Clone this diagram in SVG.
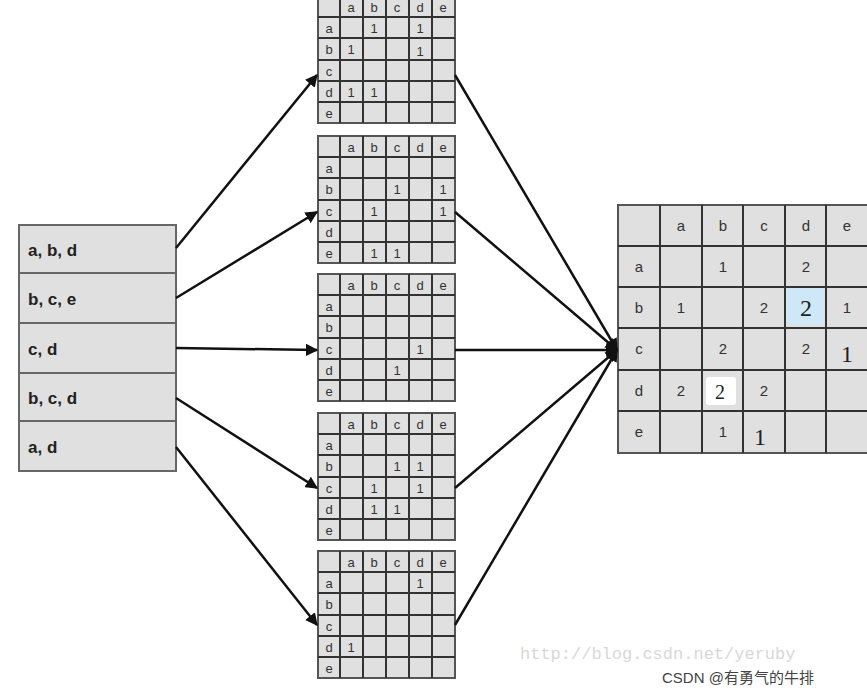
<svg xmlns="http://www.w3.org/2000/svg" width="867" height="690" viewBox="0 0 867 690">
<style>
.m{fill:#e0e0e0;stroke:#555;stroke-width:2}
.g{stroke:#333;stroke-width:2;fill:none}
.s{font-family:"Liberation Sans",Arial,sans-serif;font-size:13px;fill:#333;text-anchor:middle}
.b{font-family:"Liberation Sans",Arial,sans-serif;font-size:15px;fill:#333;text-anchor:middle}
.l{font-family:"Liberation Sans",Arial,sans-serif;font-size:17px;font-weight:bold;fill:#222}
.c{stroke:#111;stroke-width:2.5;fill:none;marker-end:url(#ar)}
.big{font-family:"Liberation Serif",serif;font-size:24px;text-anchor:middle;fill:#222}
</style>
<defs>
<marker id="ar" viewBox="0 0 10 10" refX="9" refY="5" markerWidth="5" markerHeight="5" orient="auto"><path d="M0,0L10,5L0,10z" fill="#111"/></marker>
<g id="grid"><rect class="m" x="0" y="0" width="137" height="127"/><path class="g" d="M22,0V127M45,0V127M68,0V127M91,0V127M114,0V127M0,21H137M0,42H137M0,64H137M0,85H137M0,106H137"/>
<text class="s" x="33" y="16">a</text><text class="s" x="56" y="16">b</text><text class="s" x="79" y="16">c</text><text class="s" x="102" y="16">d</text><text class="s" x="125" y="16">e</text>
<text class="s" x="11" y="37">a</text><text class="s" x="11" y="58">b</text><text class="s" x="11" y="80">c</text><text class="s" x="11" y="101">d</text><text class="s" x="11" y="122">e</text></g>
</defs>
<g id="list">
<rect x="19" y="225" width="157" height="246" fill="#e0e0e0" stroke="#666" stroke-width="2"/>
<path d="M19,273H176M19,323H176M19,373H176M19,421H176" stroke="#666" stroke-width="2"/>
<text class="l" x="28" y="256">a, b, d</text>
<text class="l" x="28" y="305">b, c, e</text>
<text class="l" x="28" y="355">c, d</text>
<text class="l" x="28" y="404">b, c, d</text>
<text class="l" x="28" y="453">a, d</text>
</g>
<g id="m1" transform="translate(318,-4)"><use href="#grid"/>
<text class="s" x="56" y="37">1</text><text class="s" x="102" y="37">1</text><text class="s" x="33" y="58">1</text><text class="s" x="102" y="60">1</text><text class="s" x="33" y="101">1</text><text class="s" x="56" y="101">1</text></g>
<g id="m2" transform="translate(318,136)"><use href="#grid"/>
<text class="s" x="79" y="58">1</text><text class="s" x="125" y="58">1</text><text class="s" x="56" y="80">1</text><text class="s" x="125" y="80">1</text><text class="s" x="56" y="122">1</text><text class="s" x="79" y="122">1</text></g>
<g id="m3" transform="translate(318,274)"><use href="#grid"/>
<text class="s" x="102" y="80">1</text><text class="s" x="79" y="101">1</text></g>
<g id="m4" transform="translate(318,413)"><use href="#grid"/>
<text class="s" x="79" y="58">1</text><text class="s" x="102" y="58">1</text><text class="s" x="56" y="80">1</text><text class="s" x="102" y="80">1</text><text class="s" x="56" y="101">1</text><text class="s" x="79" y="101">1</text></g>
<g id="m5" transform="translate(318,551)"><use href="#grid"/>
<text class="s" x="102" y="37">1</text><text class="s" x="33" y="101">1</text></g>
<g id="result">
<rect class="m" x="618" y="205" width="252" height="248"/>
<rect x="786" y="288" width="38" height="36" fill="#cfe8f8"/>
<rect x="706" y="377" width="30" height="28" rx="3" fill="#fff"/>
<path class="g" d="M660,205V453M702,205V453M743,205V453M785,205V453M826,205V453M618,246H867M618,287H867M618,328H867M618,370H867M618,411H867"/>
<text class="b" x="681" y="231">a</text><text class="b" x="723" y="231">b</text><text class="b" x="764" y="231">c</text><text class="b" x="806" y="231">d</text><text class="b" x="847" y="231">e</text>
<text class="b" x="639" y="272">a</text><text class="b" x="639" y="313">b</text><text class="b" x="639" y="354">c</text><text class="b" x="639" y="396">d</text><text class="b" x="639" y="437">e</text>
<text class="b" x="723" y="272">1</text><text class="b" x="806" y="272">2</text>
<text class="b" x="681" y="313">1</text><text class="b" x="764" y="313">2</text><text class="big" x="806" y="316">2</text><text class="b" x="847" y="313">1</text>
<text class="b" x="723" y="354">2</text><text class="b" x="806" y="354">2</text><text class="big" x="847" y="362">1</text>
<text class="b" x="681" y="396">2</text><text class="big" x="720" y="399" style="font-size:20px">2</text><text class="b" x="764" y="396">2</text>
<text class="b" x="723" y="437">1</text><text class="big" x="760" y="445">1</text>
</g>
<g id="connectors">
<path class="c" d="M176,248L317,75"/>
<path class="c" d="M176,298L317,212"/>
<path class="c" d="M176,348L317,350"/>
<path class="c" d="M176,398L317,488"/>
<path class="c" d="M176,447L317,625"/>
<path class="c" d="M455,75L617,350"/>
<path class="c" d="M455,212L617,350"/>
<path class="c" d="M455,350L617,350"/>
<path class="c" d="M455,488L617,350"/>
<path class="c" d="M455,625L617,350"/>
</g>
<text x="520" y="659" font-family="Liberation Mono,monospace" font-size="17" fill="#d8d8d8">http://blog.csdn.net/yeruby</text>
<text x="662" y="683" font-family="Liberation Sans,Noto Sans CJK SC,sans-serif" font-size="15" fill="#444">CSDN @有勇气的牛排</text>
</svg>
